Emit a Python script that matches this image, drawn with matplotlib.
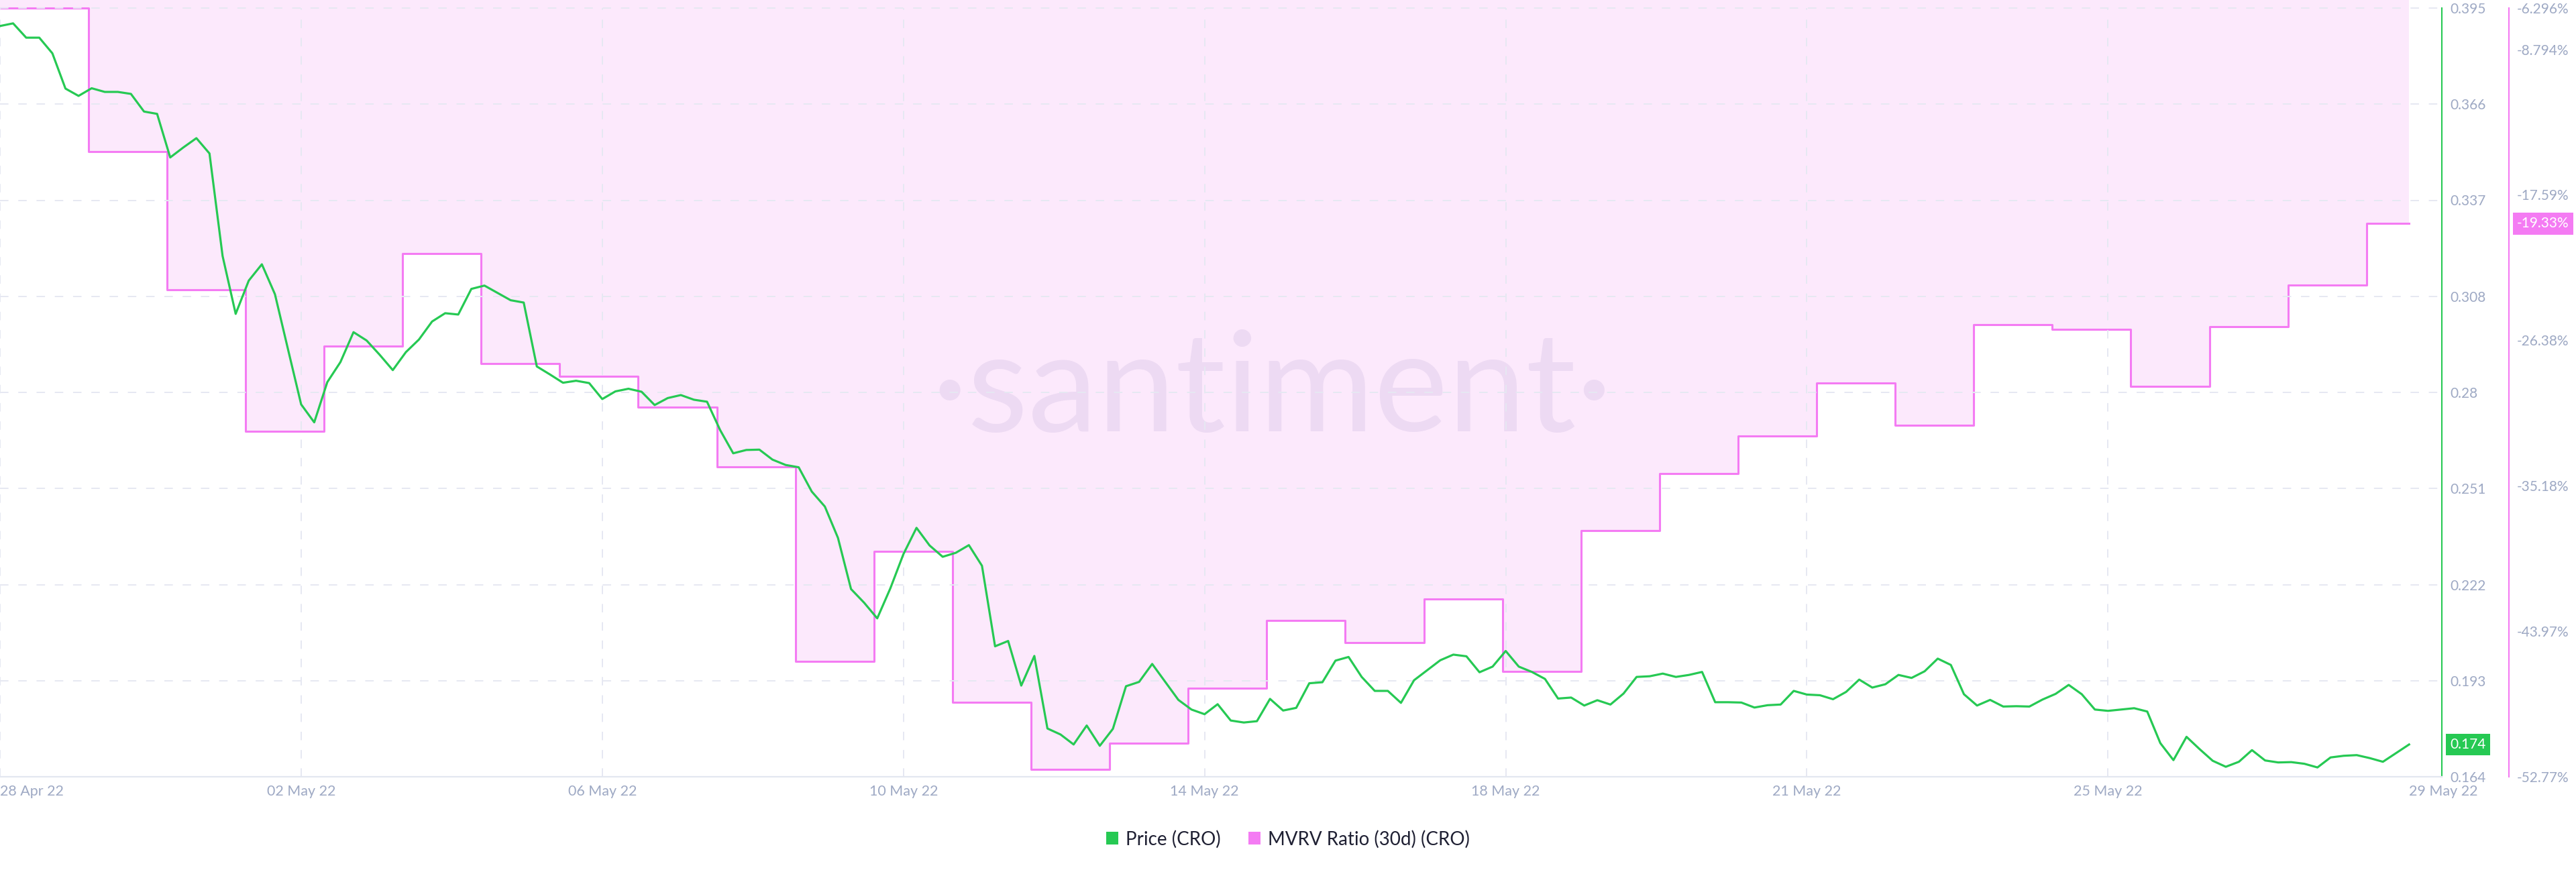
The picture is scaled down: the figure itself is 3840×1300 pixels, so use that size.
import numpy as np
import pandas as pd
import matplotlib
matplotlib.use("Agg")
import matplotlib.pyplot as plt
import matplotlib.dates as mdates
from matplotlib.patches import Patch

# =============================================================================
# DATOS — CRO, precio cada 4 horas y MVRV (30d) diario en %
# =============================================================================

PRICE_START = "2022-04-28 21:00"
PRICE_END = "2022-05-29 13:00"

price = [
    0.3896, 0.3904, 0.3861, 0.3861, 0.3814, 0.3708, 0.3686, 0.3709, 0.3698, 0.3698,
    0.3692, 0.3639, 0.3632, 0.3501, 0.3531, 0.3559, 0.3513, 0.3205, 0.3031, 0.3131,
    0.3180, 0.3090, 0.2924, 0.2759, 0.2705, 0.2826, 0.2886, 0.2976, 0.2951, 0.2908,
    0.2862, 0.2916, 0.2954, 0.3008, 0.3033, 0.3029, 0.3106, 0.3116, 0.3094, 0.3072,
    0.3065, 0.2873, 0.2849, 0.2824, 0.2830, 0.2823, 0.2775, 0.2798, 0.2806, 0.2797,
    0.2757, 0.2778, 0.2787, 0.2773, 0.2767, 0.2682, 0.2612, 0.2622, 0.2623, 0.2593,
    0.2577, 0.2570, 0.2497, 0.2452, 0.2358, 0.2204, 0.2163, 0.2116, 0.2206, 0.2309,
    0.2388, 0.2335, 0.2301, 0.2313, 0.2336, 0.2274, 0.2032, 0.2048, 0.1914, 0.2003,
    0.1785, 0.1767, 0.1737, 0.1794, 0.1733, 0.1784, 0.1912, 0.1925, 0.1979, 0.1925,
    0.1871, 0.1842, 0.1828, 0.1858, 0.1809, 0.1803, 0.1807, 0.1874, 0.1839, 0.1847,
    0.1921, 0.1924, 0.1989, 0.2000, 0.1940, 0.1898, 0.1898, 0.1862, 0.1930, 0.1960,
    0.1990, 0.2007, 0.2002, 0.1954, 0.1971, 0.2018, 0.1971, 0.1955, 0.1934, 0.1875,
    0.1878, 0.1854, 0.1870, 0.1857, 0.1890, 0.1940, 0.1942, 0.1950, 0.1940, 0.1946,
    0.1955, 0.1864, 0.1864, 0.1863, 0.1848, 0.1855, 0.1857, 0.1898, 0.1887, 0.1885,
    0.1873, 0.1895, 0.1932, 0.1908, 0.1918, 0.1946, 0.1937, 0.1957, 0.1995, 0.1976,
    0.1888, 0.1854, 0.1871, 0.1851, 0.1852, 0.1851, 0.1872, 0.1889, 0.1916, 0.1888,
    0.1842, 0.1838, 0.1842, 0.1846, 0.1836, 0.1741, 0.1690, 0.1760, 0.1723, 0.1688,
    0.1670, 0.1685, 0.1720, 0.1689, 0.1683, 0.1684, 0.1679, 0.1668, 0.1698, 0.1703,
    0.1705, 0.1696, 0.1685, 0.1711, 0.1737,
]

# MVRV: primer valor desde el inicio, luego un valor por día (30 Apr ... 29 May)
MVRV_FIRST_DAY = "2022-04-30"
MVRV_LAST_DAY = "2022-05-29"
mvrv = [
    -6.30, -14.97, -23.33, -31.88, -26.75, -21.13, -27.77, -28.54, -30.42, -34.03,
    -45.78, -39.13, -48.28, -52.31, -50.75, -47.42, -43.32, -44.65, -42.03, -46.41,
    -37.90, -34.44, -32.18, -28.98, -31.54, -25.42, -25.74, -29.17, -25.55, -23.04,
    -19.33,
]

x_labels = ["28 Apr 22", "02 May 22", "06 May 22", "10 May 22", "14 May 22",
            "18 May 22", "21 May 22", "25 May 22", "29 May 22"]
price_labels = ["0.164", "0.193", "0.222", "0.251", "0.28", "0.308", "0.337", "0.366", "0.395"]
mvrv_ticks = [-52.77, -43.97, -35.18, -26.38, -17.59, -8.794, -6.296]
mvrv_labels = ["-52.77%", "-43.97%", "-35.18%", "-26.38%", "-17.59%", "-8.794%", "-6.296%"]

# =============================================================================
# ESTILO
# =============================================================================

GREEN = "#26c953"
MAGENTA = "#f47bf3"
PINK_FILL = "#fce9fc"
GRID = "#e6e8f2"
TICK = "#9ea9c4"
WATERMARK = "#eddaf3"

plt.rcParams["font.family"] = ["Lato", "DejaVu Sans"]

W, H = 3840, 1300
PLOT_RIGHT, PLOT_TOP, PLOT_BOTTOM = 3640, 12, 1158

# =============================================================================
# GRÁFICO
# =============================================================================

t_price = pd.date_range(PRICE_START, PRICE_END, freq="4h")
xp = mdates.date2num(t_price.to_pydatetime())

t_mvrv = [pd.Timestamp(PRICE_START)] + list(pd.date_range(MVRV_FIRST_DAY, MVRV_LAST_DAY, freq="D")) \
    + [pd.Timestamp(PRICE_END)]
xm = mdates.date2num([t.to_pydatetime() for t in t_mvrv])
ym = mvrv + [mvrv[-1]]

fig = plt.figure(figsize=(W / 100, H / 100), dpi=100)
ax = fig.add_axes([0, 1 - PLOT_BOTTOM / H, PLOT_RIGHT / W, PLOT_BOTTOM / H])
ax2 = ax.twinx()
ax.set_zorder(ax2.get_zorder() + 1)
ax.patch.set_visible(False)

# escalas: el valor máximo cae 12 px por debajo del borde superior
p_lo, p_hi = float(price_labels[0]), float(price_labels[-1])
m_lo, m_hi = mvrv_ticks[0], mvrv_ticks[-1]
frac = PLOT_TOP / (PLOT_BOTTOM - PLOT_TOP)
ax.set_ylim(p_lo, p_hi + (p_hi - p_lo) * frac)
ax2.set_ylim(m_lo, m_hi + (m_hi - m_lo) * frac)

x_left = mdates.date2num(pd.Timestamp(PRICE_START).to_pydatetime())
x_right = mdates.date2num((pd.Timestamp(PRICE_END) + pd.Timedelta(hours=10)).to_pydatetime())
ax.set_xlim(x_left, x_right)

# MVRV (área hacia el cero + línea escalonada)
ax2.fill_between(xm, ym, 0, step="post", color=PINK_FILL, lw=0, zorder=1)
ax2.step(xm, ym, where="post", color=MAGENTA, lw=2.2, zorder=3)

ax2.text(0.521, 0.445, "·santiment·", transform=ax2.transAxes, ha="center", va="baseline",
         fontsize=150, color=WATERMARK, zorder=2)

# precio
ax.plot(xp, price, color=GREEN, lw=2.3, zorder=3, solid_joinstyle="round")

# grilla
ax.set_yticks(np.linspace(p_lo, p_hi, len(price_labels)))
ax.set_yticklabels(price_labels)
ax.grid(axis="y", color=GRID, lw=1.4, dashes=(6.5, 7.5), zorder=0)
ax.set_axisbelow(True)

xticks = mdates.date2num(pd.date_range(PRICE_START, PRICE_END, periods=len(x_labels)).to_pydatetime())
ax.set_xticks(xticks)
ax.set_xticklabels(x_labels)
ymax_grid = 1 - frac * (PLOT_BOTTOM - PLOT_TOP) / PLOT_BOTTOM
for t in xticks[:-1]:
    ax.axvline(t, ymin=0, ymax=ymax_grid, color=GRID, lw=1.4, dashes=(6.5, 7.5), zorder=0)
lbls = ax.get_xticklabels()
lbls[0].set_ha("left")
lbls[-1].set_ha("left")

ax2.set_yticks(mvrv_ticks)
ax2.set_yticklabels(mvrv_labels)

# ejes
for s in ("top", "left"):
    ax.spines[s].set_visible(False)
    ax2.spines[s].set_visible(False)
ax2.spines["bottom"].set_visible(False)
ax.spines["bottom"].set_color("#e3e7f0")
ax.spines["bottom"].set_linewidth(1.6)
ax.spines["right"].set_color(GREEN)
ax.spines["right"].set_linewidth(1.5)
ax.spines["right"].set_bounds(p_lo, p_hi)
ax2.spines["right"].set_position(("outward", 72))
ax2.spines["right"].set_color(MAGENTA)
ax2.spines["right"].set_linewidth(1.5)
ax2.spines["right"].set_bounds(m_lo, m_hi)

ax.yaxis.tick_right()
ax.tick_params(axis="y", length=0, pad=8.6, labelsize=15, labelcolor=TICK)
ax.tick_params(axis="x", length=0, pad=9, labelsize=15.5, labelcolor=TICK)
ax2.tick_params(axis="y", length=0, pad=8.6, labelsize=15, labelcolor=TICK)

# etiquetas del último valor
ax.annotate(f"{price[-1]:.3f}", xy=(1, price[-1]), xycoords=ax.get_yaxis_transform(),
            xytext=(8.6, 0), textcoords="offset points", ha="left", va="center",
            fontsize=15, color="white", annotation_clip=False, zorder=6,
            bbox=dict(boxstyle="square,pad=0.3", fc=GREEN, ec="none"))
ax2.annotate(f"{mvrv[-1]:.2f}%", xy=(1, mvrv[-1]), xycoords=ax2.get_yaxis_transform(),
             xytext=(72 + 8.6, 0), textcoords="offset points", ha="left", va="center",
             fontsize=15, color="white", annotation_clip=False, zorder=6,
             bbox=dict(boxstyle="square,pad=0.3", fc=MAGENTA, ec="none"))

# leyenda
handles = [Patch(fc=GREEN, ec="none", label="Price (CRO)"),
           Patch(fc=MAGENTA, ec="none", label="MVRV Ratio (30d) (CRO)")]
fig.legend(handles=handles, loc="center", bbox_to_anchor=(0.5, 1 - 1251 / H), ncol=2,
           frameon=False, fontsize=20, handlelength=0.65, handleheight=0.65,
           handletextpad=0.4, columnspacing=1.5, labelcolor="#1f2033")

fig.savefig("out.png", dpi=100)
